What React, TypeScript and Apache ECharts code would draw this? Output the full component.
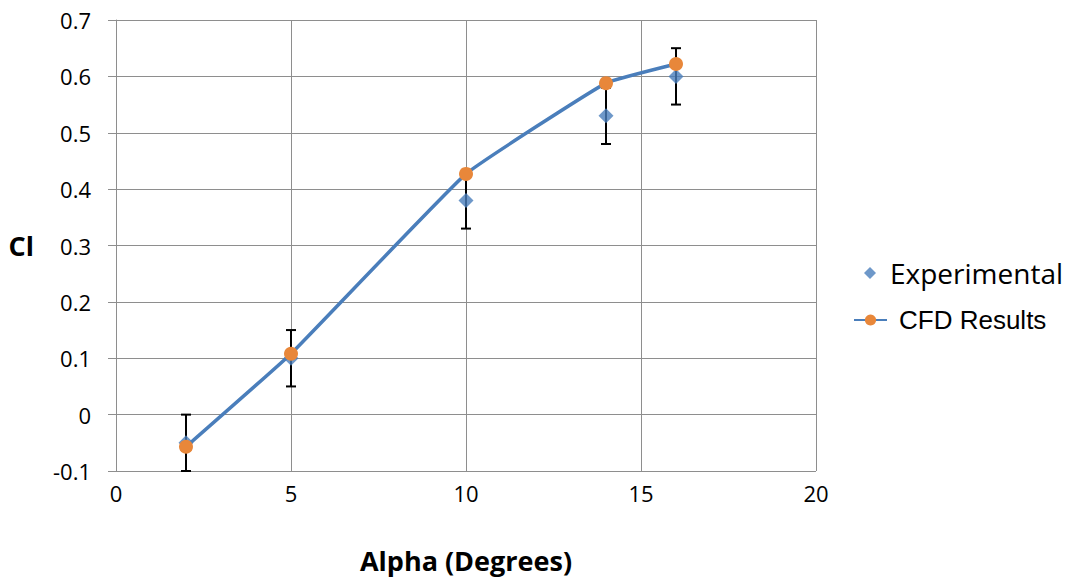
import React, { useEffect, useRef } from "react";
import * as echarts from "echarts";

const alpha = [2, 5, 10, 14, 16];
const experimental = [-0.05, 0.1, 0.38, 0.53, 0.6];
const errorMargin = [0.05, 0.05, 0.05, 0.05, 0.05];
const cfdResults = [-0.057, 0.108, 0.427, 0.588, 0.622];

export default function App() {
  const ref = useRef<HTMLDivElement>(null);
  useEffect(() => {
    document.body.style.margin = "0";
    const chart = echarts.init(ref.current!, null, { renderer: "svg" });
    const expData = alpha.map((a, i) => [a, experimental[i]]);
    const cfdData = alpha.map((a, i) => [a, cfdResults[i]]);
    const errData = alpha.map((a, i) => [a, experimental[i] - errorMargin[i], experimental[i] + errorMargin[i]]);
    const gridColor = "#8e8e8e";
    const font = "'Open Sans', 'Noto Sans', sans-serif";
    chart.setOption({
      animation: false,
      backgroundColor: "#ffffff",
      grid: { left: 116, right: 256, top: 20, bottom: 108 },
      xAxis: {
        type: "value",
        min: 0,
        max: 20,
        interval: 5,
        name: "Alpha (Degrees)",
        nameLocation: "middle",
        nameGap: 76,
        nameTextStyle: { fontFamily: font, fontSize: 27, fontWeight: "bold", color: "#000" },
        axisLine: { show: true, lineStyle: { color: gridColor, width: 1 } },
        axisTick: { show: true, length: 8, lineStyle: { color: gridColor } },
        axisLabel: { margin: 11, fontFamily: font, fontSize: 22, color: "#000" },
        splitLine: { show: true, lineStyle: { color: gridColor, width: 1 } },
      },
      yAxis: {
        type: "value",
        min: -0.1,
        max: 0.7,
        interval: 0.1,
        name: "Cl",
        nameLocation: "middle",
        nameGap: 82,
        nameRotate: 0,
        nameTextStyle: { fontFamily: font, fontSize: 27, fontWeight: "bold", color: "#000" },
        axisLine: { show: true, lineStyle: { color: gridColor, width: 1 } },
        axisTick: { show: true, length: 8, lineStyle: { color: gridColor } },
        axisLabel: {
          margin: 25,
          fontFamily: font,
          fontSize: 22,
          color: "#000",
          formatter: (v: number) => (Math.abs(v) < 1e-9 ? "0" : String(parseFloat(v.toFixed(1)))),
        },
        splitLine: { show: true, lineStyle: { color: gridColor, width: 1 } },
      },
      legend: [
        {
          data: ["Experimental"],
          left: 859,
          top: 254,
          itemWidth: 12,
          itemHeight: 12,
          textStyle: { fontFamily: font, fontSize: 28, color: "#000", padding: [0, 0, 0, 9] },
        },
        {
          data: ["CFD Results"],
          left: 848,
          top: 302,
          itemWidth: 33,
          itemHeight: 14,
          textStyle: {
            fontFamily: "'Liberation Sans', Arial, sans-serif",
            fontSize: 26,
            color: "#000",
            padding: [0, 0, 0, 7],
          },
        },
      ],
      series: [
        {
          name: "Error",
          type: "custom",
          data: errData,
          z: 1,
          renderItem: (params: any, api: any) => {
            const x = api.value(0);
            const lo = api.coord([x, api.value(1)]);
            const hi = api.coord([x, api.value(2)]);
            const cap = 5;
            const style = { stroke: "#000", lineWidth: 2 };
            return {
              type: "group",
              children: [
                { type: "line", shape: { x1: lo[0], y1: lo[1], x2: hi[0], y2: hi[1] }, style },
                { type: "line", shape: { x1: lo[0] - cap, y1: lo[1], x2: lo[0] + cap, y2: lo[1] }, style },
                { type: "line", shape: { x1: hi[0] - cap, y1: hi[1], x2: hi[0] + cap, y2: hi[1] }, style },
              ],
            };
          },
        },
        {
          name: "Experimental",
          type: "scatter",
          data: expData,
          symbol: "diamond",
          symbolSize: 15,
          z: 3,
          itemStyle: { color: "#4A7EBB" },
        },
        {
          name: "CFD Results",
          type: "line",
          data: cfdData,
          smooth: 0.1,
          symbol: "circle",
          symbolSize: 14,
          z: 4,
          lineStyle: { color: "#4A7EBB", width: 3.5 },
          itemStyle: { color: "#E8873A", borderWidth: 0 },
        },
      ],
    });
    return () => chart.dispose();
  }, []);
  return <div ref={ref} style={{ width: 1072, height: 579 }} />;
}
